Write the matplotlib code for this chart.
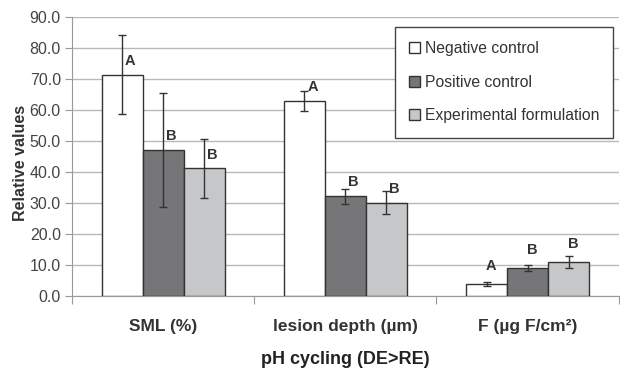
import numpy as np
import matplotlib
matplotlib.use('Agg')
from matplotlib import pyplot as plt
from matplotlib.ticker import MultipleLocator, FixedLocator

plt.rcParams['font.family'] = ['Liberation Sans', 'DejaVu Sans']

categories = ['SML (%)', 'lesion depth (µm)', 'F (µg F/cm²)']
series = ['Negative control', 'Positive control', 'Experimental formulation']
means = {
    'Negative control': [71.4, 62.9, 3.9],
    'Positive control': [47.1, 32.1, 9.0],
    'Experimental formulation': [41.1, 30.1, 11.0],
}
errors = {
    'Negative control': [12.8, 3.3, 0.7],
    'Positive control': [18.5, 2.5, 1.0],
    'Experimental formulation': [9.6, 3.7, 2.0],
}
letters = {
    'Negative control': ['A', 'A', 'A'],
    'Positive control': ['B', 'B', 'B'],
    'Experimental formulation': ['B', 'B', 'B'],
}
colors = ['#ffffff', '#767678', '#c6c7c9']

fig = plt.figure(figsize=(6.2, 3.68), dpi=100)
ax = fig.add_axes([0.116, 0.196, 0.882, 0.758])

x = np.arange(len(categories))
width = 0.225
handles = []
for i, name in enumerate(series):
    pos = x + (i - 1) * width
    b = ax.bar(pos, means[name], width, color=colors[i], edgecolor='#333333', linewidth=1.0, zorder=3)
    handles.append(b)
    ax.errorbar(pos, means[name], yerr=errors[name], fmt='none', ecolor='#333333',
                elinewidth=1.0, capsize=3, capthick=1.0, zorder=4)
    for px, m, lab in zip(pos, means[name], letters[name]):
        dx = 6 if px < 1.5 else 3
        dy = 5 if px < 1.5 else 8
        ax.annotate(lab, (px, m), xytext=(dx, dy), textcoords='offset points',
                    ha='center', va='bottom', fontsize=10.5, fontweight='bold', color='#333333')

ax.set_ylim(0, 90)
ax.set_xlim(-0.5, 2.5)
ax.yaxis.set_major_locator(MultipleLocator(10))
ax.set_yticklabels([f'{v:.1f}' for v in ax.get_yticks()])
ax.yaxis.grid(True, color='#b8b8b8', linewidth=1.0, zorder=0)
ax.set_axisbelow(True)

ax.xaxis.set_major_locator(FixedLocator([-0.5, 0.5, 1.5, 2.5]))
ax.xaxis.set_major_formatter(plt.NullFormatter())
ax.xaxis.set_minor_locator(FixedLocator(x))
ax.set_xticklabels(categories, minor=True, fontsize=12.5, fontweight='bold', color='#333333')
ax.tick_params(axis='x', which='minor', length=0, pad=17)
ax.tick_params(axis='x', which='major', length=6, color='#999999', direction='out')
ax.tick_params(axis='y', length=5, color='#999999', labelsize=11.5, labelcolor='#444444', pad=3)

for s in ['top', 'right']:
    ax.spines[s].set_visible(False)
ax.spines['left'].set_color('#999999')
ax.spines['bottom'].set_color('#999999')

ax.set_ylabel('Relative values', fontsize=11.5, fontweight='bold', color='#333333')
ax.yaxis.set_label_coords(-0.08, 0.475)
ax.set_xlabel('pH cycling (DE>RE)', fontsize=13, fontweight='bold', color='#222222', labelpad=12)

leg = ax.legend(handles, series, loc='upper right', bbox_to_anchor=(0.99, 0.965), fontsize=11.3,
                frameon=True, fancybox=False, framealpha=1, edgecolor='#444444',
                handlelength=0.7, handleheight=0.7, handletextpad=0.3, labelspacing=1.2,
                borderpad=0.9, borderaxespad=0)
for t in leg.get_texts():
    t.set_color('#333333')
leg.get_frame().set_linewidth(1.0)

plt.savefig('out.png', dpi=100)
